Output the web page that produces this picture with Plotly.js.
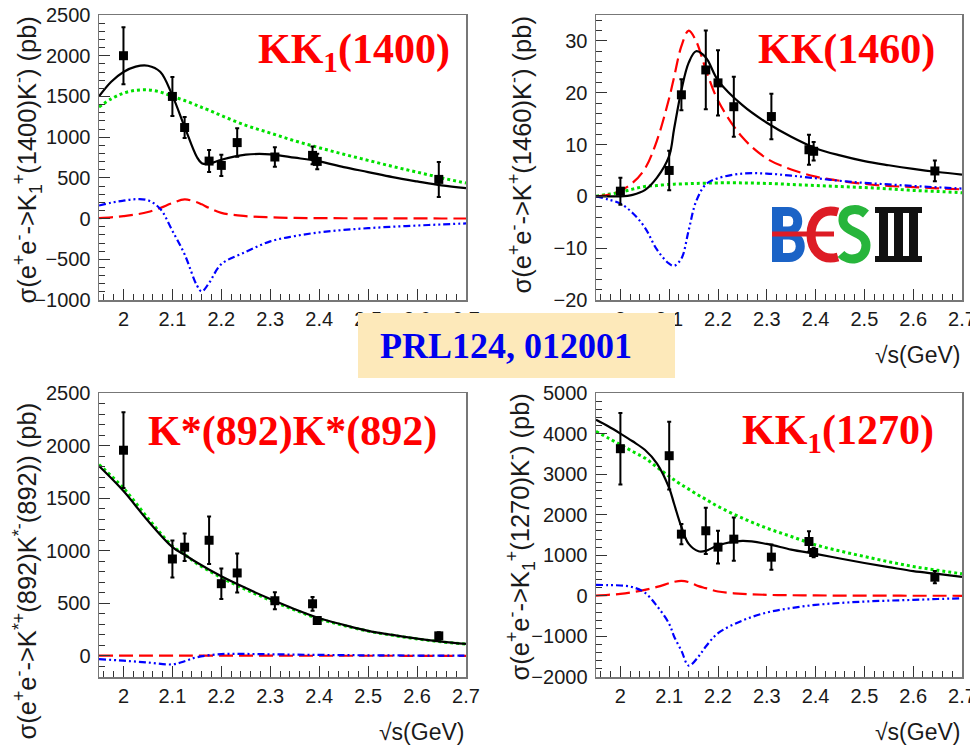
<!DOCTYPE html>
<html>
<head>
<meta charset="utf-8">
<script src="https://cdn.plot.ly/plotly-3.0.1.min.js"></script>
<style>
  html, body { margin: 0; padding: 0; background: #fff; }
  #chart { width: 970px; height: 750px; }
</style>
</head>
<body>
<div id="chart"></div>
<script>
// Centre-of-mass energies of the measured points (GeV)
const energies = [2.0, 2.1, 2.125, 2.175, 2.2, 2.2324, 2.3094, 2.3864, 2.396, 2.6444];

// e+e- -> K1(1400)+ K-
const xsK1400  = [2000, 1500, 1118, 706, 653, 933, 756, 776, 702, 481];
const errK1400 = [350, 240, 130, 135, 130, 175, 120, 110, 95, 215];
const gridK1400   = [1.95, 1.975, 2.0, 2.025, 2.05, 2.075, 2.1, 2.125, 2.15, 2.16, 2.175, 2.2, 2.25, 2.3, 2.35, 2.4, 2.45, 2.5, 2.55, 2.6, 2.65, 2.7];
const totalK1400  = [1500, 1680, 1800, 1866, 1877, 1803, 1510, 1126, 756, 680, 674, 723, 785, 789, 748, 702, 632, 571, 509, 456, 407, 374];
const contK1400   = [1370, 1470, 1540, 1575, 1580, 1555, 1500, 1450, 1390, 1365, 1330, 1265, 1145, 1050, 955, 870, 790, 715, 640, 570, 500, 436];
const resK1400    = [5, 15, 30, 50, 80, 130, 190, 235, 200, 175, 130, 70, 30, 15, 8, 5, 4, 3, 2, 2, 1, 1];
const interfK1400 = [160, 195, 220, 238, 225, 120, -150, -440, -820, -895, -790, -560, -410, -280, -215, -170, -140, -118, -100, -86, -72, -60];

// e+e- -> K(1460)+ K-
const xsK1460  = [1.0, 5.0, 19.6, 24.4, 21.9, 17.3, 15.4, 9.0, 8.7, 4.9];
const errK1460 = [2.6, 3.8, 3.0, 7.6, 6.3, 5.8, 4.4, 2.9, 1.8, 2.0];
const gridK1460   = [1.95, 1.975, 2.0, 2.025, 2.05, 2.075, 2.1, 2.11, 2.125, 2.14, 2.155, 2.175, 2.2, 2.25, 2.3, 2.35, 2.4, 2.45, 2.5, 2.55, 2.6, 2.65, 2.7];
const totalK1460  = [0, 0, 0, 0.3, 1.2, 3.6, 7.8, 13, 20.5, 25.8, 28.0, 26.8, 22.4, 17.6, 14.2, 11.5, 9.3, 7.9, 6.8, 6.0, 5.3, 4.7, 4.2];
const contK1460   = [0, 0.4, 0.8, 1.4, 1.9, 2.1, 2.3, 2.35, 2.4, 2.45, 2.5, 2.55, 2.6, 2.6, 2.5, 2.3, 2.1, 1.9, 1.7, 1.45, 1.15, 0.95, 0.7];
const resK1460    = [0, 0.3, 1.1, 2.6, 5.3, 10.8, 19, 23, 29, 32, 30, 24.5, 18.5, 11.4, 7.3, 5.2, 3.8, 3.0, 2.4, 2.0, 1.8, 1.55, 1.35];
const interfK1460 = [0, -0.6, -1.4, -3.2, -6.0, -10.3, -13.0, -13.4, -12.0, -6.5, -1.0, 2.3, 3.5, 4.4, 4.4, 4.0, 3.5, 3.0, 2.6, 2.3, 2.0, 1.75, 1.5];

// e+e- -> K*(892)+ K*(892)-
const xsKstar  = [1956, 922, 1034, 1100, 687, 789, 525, 496, 337, 191];
const errKstar = [360, 175, 130, 225, 145, 185, 80, 65, 30, 35];
const gridKstar   = [1.95, 2.0, 2.05, 2.1, 2.125, 2.15, 2.2, 2.25, 2.3, 2.35, 2.4, 2.45, 2.5, 2.55, 2.6, 2.65, 2.7];
const totalKstar  = [1806, 1568, 1285, 1035, 962, 888, 757, 645, 541, 445, 359, 296, 239, 200, 165, 137, 114];
const contKstar   = [1820, 1595, 1310, 1045, 965, 878, 745, 632, 530, 437, 352, 290, 236, 196, 162, 134, 112];
const resKstar    = [3, 3, 3, 3, 3, 3, 3, 3, 3, 2, 2, 2, 2, 2, 1, 1, 1];
const interfKstar = [-30, -45, -62, -80, -50, -12, 18, 19, 16, 13, 10, 8, 6, 5, 4, 3, 3];

// e+e- -> K1(1270)+ K-
const xsK1270  = [3627, 3454, 1521, 1604, 1201, 1398, 954, 1340, 1069, 460];
const errK1270 = [880, 835, 250, 570, 405, 535, 310, 250, 115, 150];
const gridK1270   = [1.95, 1.975, 2.0, 2.025, 2.05, 2.075, 2.1, 2.11, 2.125, 2.14, 2.16, 2.175, 2.2, 2.25, 2.3, 2.35, 2.4, 2.45, 2.5, 2.55, 2.6, 2.65, 2.7];
const totalK1270  = [4342, 4180, 4000, 3810, 3600, 3260, 2656, 2270, 1700, 1280, 1100, 1110, 1245, 1355, 1280, 1140, 1035, 920, 810, 710, 610, 540, 470];
const contK1270   = [4054, 3890, 3725, 3560, 3396, 3170, 2944, 2860, 2740, 2630, 2480, 2380, 2204, 1916, 1669, 1464, 1258, 1105, 970, 840, 724, 630, 543];
const resK1270    = [8, 25, 49, 90, 148, 220, 312, 345, 370, 340, 240, 190, 107, 49, 25, 15, 10, 7, 5, 4, 3, 3, 2];
const interfK1270 = [271, 265, 255, 215, 80, -250, -690, -1000, -1350, -1720, -1497, -1250, -921, -609, -411, -300, -222, -175, -140, -118, -99, -78, -58];

const yTitles = [
  'σ(e<sup>+</sup>e<sup>-</sup>-&gt;K<sub>1</sub><sup>+</sup>(1400)K<sup>-</sup>) (pb)',
  'σ(e<sup>+</sup>e<sup>-</sup>-&gt;K<sup>+</sup>(1460)K<sup>-</sup>) (pb)',
  'σ(e<sup>+</sup>e<sup>-</sup>-&gt;K<sup>*+</sup>(892)K<sup>*-</sup>(892)) (pb)',
  'σ(e<sup>+</sup>e<sup>-</sup>-&gt;K<sub>1</sub><sup>+</sup>(1270)K<sup>-</sup>) (pb)'
];
const channelLabels = ['KK<sub>1</sub>(1400)', 'KK(1460)', 'K*(892)K*(892)', 'KK<sub>1</sub>(1270)'];
const xTitle = '√s(GeV)';
const reference = 'PRL124, 012001';

const W = 970, H = 750;
const px = v => v / W;          // pixel -> paper x
const py = v => 1 - v / H;      // pixel -> paper y

const sans = 'Liberation Sans, Arial, Helvetica, sans-serif';
const serif = 'Liberation Serif, Times New Roman, serif';

const styles = {
  cont:   {color: '#00e000', width: 3, dash: '3px,3px'},
  res:    {color: '#ff0000', width: 2.2, dash: '14px,6px'},
  interf: {color: '#0000ff', width: 2.2, dash: '7px,3px,2px,3px,2px,3px'},
  total:  {color: '#000000', width: 2.2}
};

function panel(n, grid, total, cont, res, interf, xs, err) {
  const xa = n === 1 ? 'x' : 'x' + n;
  const ya = n === 1 ? 'y' : 'y' + n;
  const curve = (y, line) => ({
    type: 'scatter', mode: 'lines', x: grid, y: y, xaxis: xa, yaxis: ya,
    line: Object.assign({shape: 'spline', smoothing: 1}, line), hoverinfo: 'skip'
  });
  return [
    curve(cont, styles.cont),
    curve(res, styles.res),
    curve(interf, styles.interf),
    curve(total, styles.total),
    {
      type: 'scatter', mode: 'markers', x: energies, y: xs, xaxis: xa, yaxis: ya,
      marker: {symbol: 'square', size: 9, color: '#000'},
      error_y: {type: 'data', array: err, visible: true, color: '#000', thickness: 2, width: 2}
    }
  ];
}

const traces = [].concat(
  panel(1, gridK1400, totalK1400, contK1400, resK1400, interfK1400, xsK1400, errK1400),
  panel(2, gridK1460, totalK1460, contK1460, resK1460, interfK1460, xsK1460, errK1460),
  panel(3, gridKstar, totalKstar, contKstar, resKstar, interfKstar, xsKstar, errKstar),
  panel(4, gridK1270, totalK1270, contK1270, resK1270, interfK1270, xsK1270, errK1270)
);

const tickFont = {family: sans, size: 20, color: '#1a1a1a'};
const frame = {showline: true, linecolor: '#777', linewidth: 1.5, mirror: true, showgrid: false, zeroline: false};

function xAxis(domain, anchor) {
  return Object.assign({
    domain: domain, anchor: anchor, range: [1.95, 2.7], dtick: 0.1, tick0: 2,
    ticks: 'inside', ticklen: 11, tickwidth: 1, tickcolor: '#333',
    minor: {dtick: 0.02, ticks: 'inside', ticklen: 6, tickwidth: 1, tickcolor: '#333', showgrid: false},
    tickfont: tickFont, exponentformat: 'none', ticklabeloverflow: 'allow'
  }, frame);
}
function yAxis(domain, anchor, range, dtick, minorStep) {
  return Object.assign({
    domain: domain, anchor: anchor, range: range, dtick: dtick, tick0: 0,
    ticks: 'inside', ticklen: 11, tickwidth: 1, tickcolor: '#333',
    minor: {dtick: minorStep, ticks: 'inside', ticklen: 6, tickwidth: 1, tickcolor: '#333', showgrid: false},
    tickfont: tickFont, exponentformat: 'none', ticklabelstandoff: 3, ticklabeloverflow: 'allow'
  }, frame);
}

const colL = [px(99), px(466)], colR = [px(596), px(962)];
const rowT = [py(300), py(15)], rowB = [py(677), py(393)];

// BESIII logo drawn from simple strokes and blocks (pixel coordinates)
const P = (x, y) => px(x).toFixed(5) + ',' + py(y).toFixed(5);
const rect = (x0, y0, x1, y1, color) => ({type: 'rect', xref: 'paper', yref: 'paper',
  x0: px(x0), x1: px(x1), y0: py(y1), y1: py(y0), fillcolor: color, line: {width: 0}, layer: 'above'});
const stroke = (d, color, w) => ({type: 'path', xref: 'paper', yref: 'paper', path: d,
  line: {color: color, width: w}, fillcolor: 'rgba(0,0,0,0)', layer: 'above'});
const logoBlue = '#1b63c6', logoRed = '#dd1c25', logoGreen = '#27b53b', logoBlack = '#111';

const shapes = [
  // reference box
  {type: 'rect', xref: 'paper', yref: 'paper', x0: px(358), x1: px(675), y0: py(378), y1: py(313),
   fillcolor: '#fde9ba', line: {width: 0}, layer: 'above'},
  // B
  rect(772, 207, 783, 262, logoBlue),
  stroke('M ' + P(778, 211.5) + ' L ' + P(788, 211.5) + ' C ' + P(801, 211.5) + ' ' + P(801, 231) + ' ' + P(788, 231) + ' L ' + P(778, 231), logoBlue, 9),
  stroke('M ' + P(778, 235) + ' L ' + P(789, 235) + ' C ' + P(804, 235) + ' ' + P(804, 257.5) + ' ' + P(789, 257.5) + ' L ' + P(778, 257.5), logoBlue, 9),
  // E (open arc with bar)
  stroke('M ' + P(838, 212) + ' C ' + P(802, 202) + ' ' + P(802, 267) + ' ' + P(838, 257), logoRed, 9),
  rect(772, 231.5, 834, 236.5, logoRed),
  // S
  stroke('M ' + P(866, 214) + ' C ' + P(858, 207) + ' ' + P(842, 208) + ' ' + P(843, 221) +
         ' C ' + P(844, 233) + ' ' + P(866, 231) + ' ' + P(866, 245) +
         ' C ' + P(866, 261) + ' ' + P(848, 262) + ' ' + P(841, 254), logoGreen, 9),
  // III
  rect(875, 207, 922, 213, logoBlack),
  rect(875, 256, 922, 262, logoBlack),
  rect(879, 207, 888, 262, logoBlack),
  rect(894, 207, 903, 262, logoBlack),
  rect(909, 207, 918, 262, logoBlack)
];

const annotations = [];
// y-axis titles, aligned with the top of each axis
[[27, 15], [520, 15], [25, 401], [520, 392]].forEach((p, i) => {
  annotations.push({xref: 'paper', yref: 'paper', x: px(p[0]), y: py(p[1]), xanchor: 'center', yanchor: 'top',
    textangle: -90, showarrow: false, text: yTitles[i], font: {family: sans, size: 25.5, color: '#1a1a1a'}});
});
// channel labels
[[354, 52], [846, 50], [292, 431], [838, 433]].forEach((p, i) => {
  annotations.push({xref: 'paper', yref: 'paper', x: px(p[0]), y: py(p[1]), xanchor: 'center', yanchor: 'middle',
    showarrow: false, text: '<b>' + channelLabels[i] + '</b>', font: {family: serif, size: 42, color: '#ff0000'}});
});
// x-axis titles
[[962, 355], [466, 732], [962, 732]].forEach(p => {
  annotations.push({xref: 'paper', yref: 'paper', x: px(p[0]), y: py(p[1]), xanchor: 'right', yanchor: 'middle',
    showarrow: false, text: xTitle, font: {family: sans, size: 23, color: '#1a1a1a'}});
});
// publication reference
annotations.push({xref: 'paper', yref: 'paper', x: px(378), y: py(346), xanchor: 'left', yanchor: 'middle',
  showarrow: false, text: '<b>' + reference + '</b>', font: {family: serif, size: 36, color: '#0000ee'}});

const layout = {
  width: W, height: H,
  margin: {l: 0, r: 0, t: 0, b: 0},
  paper_bgcolor: '#fff', plot_bgcolor: '#fff',
  showlegend: false,
  xaxis:  xAxis(colL, 'y'),  yaxis:  yAxis(rowT, 'x',  [-1000, 2500], 500, 100),
  xaxis2: xAxis(colR, 'y2'), yaxis2: yAxis(rowT, 'x2', [-20, 35], 10, 2),
  xaxis3: xAxis(colL, 'y3'), yaxis3: yAxis(rowB, 'x3', [-200, 2500], 500, 100),
  xaxis4: xAxis(colR, 'y4'), yaxis4: yAxis(rowB, 'x4', [-2000, 5000], 1000, 200),
  shapes: shapes,
  annotations: annotations
};

Plotly.newPlot('chart', traces, layout, {staticPlot: true, displayModeBar: false});
</script>
</body>
</html>
